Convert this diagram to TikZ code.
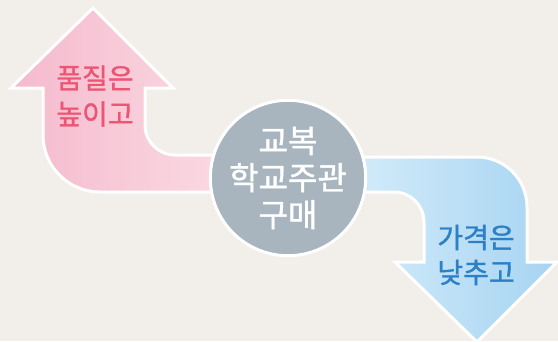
\documentclass[tikz,border=0pt]{standalone}
\usepackage{fontspec}
\setmainfont{Noto Sans CJK KR}[FakeBold=1.2]
\usetikzlibrary{positioning}
\definecolor{paper}{HTML}{F2EEE9}
\definecolor{pinkdeep}{HTML}{F5BACD}
\definecolor{pinklight}{HTML}{FCE3EA}
\definecolor{pinktext}{HTML}{EC5574}
\definecolor{bluedeep}{HTML}{A6D4F2}
\definecolor{bluelight}{HTML}{E2F3FC}
\definecolor{bluetext}{HTML}{2C80C5}
\definecolor{ringgray}{HTML}{A8B5BE}

\begin{document}
\begin{tikzpicture}
		[x=1pt, y=-1pt, rim/.style = {draw=white, line width=3pt},
		slogan/.style = {font=\fontsize{28}{36}\selectfont, align=center, inner sep=0pt},
		ring/.style = {circle, rim, fill=ringgray, minimum size=148, inner sep=0pt,
			text=white, font=\fontsize{32}{37}\selectfont, align=center}]
	\useasboundingbox (0,0) rectangle (558,341);
	\fill[paper] (0,0) rectangle (558,341);
	% up arrow
	\shade[rim, left color=pinkdeep, right color=pinklight]
		(290,155) -- (175,155) arc[start angle=90, end angle=180, radius=30]
		-- (145,88) -- (173,88) -- (93,8) -- (11,88) -- (43,88) -- (43,135)
		arc[start angle=180, end angle=90, radius=57] -- (290,192) -- cycle;
	% down arrow
	\shade[rim, left color=bluelight, right color=bluedeep]
		(285,157) -- (477,157) arc[start angle=-90, end angle=0, radius=50]
		-- (527,262) -- (557,262) -- (477,342) -- (395,262) -- (424,262) -- (424,222)
		arc[start angle=0, end angle=-90, radius=30] -- (285,192) -- cycle;
	\node[ring] (mid) at (288,178) {교복\\학교주관\\구매};
	\node[slogan, text=pinktext] (up) at (95,96) {품질은\\높이고};
	\node[slogan, text=bluetext, font=\fontsize{28}{35}\selectfont] (down) at (476,255) {가격은\\낮추고};
\end{tikzpicture}
\end{document}
